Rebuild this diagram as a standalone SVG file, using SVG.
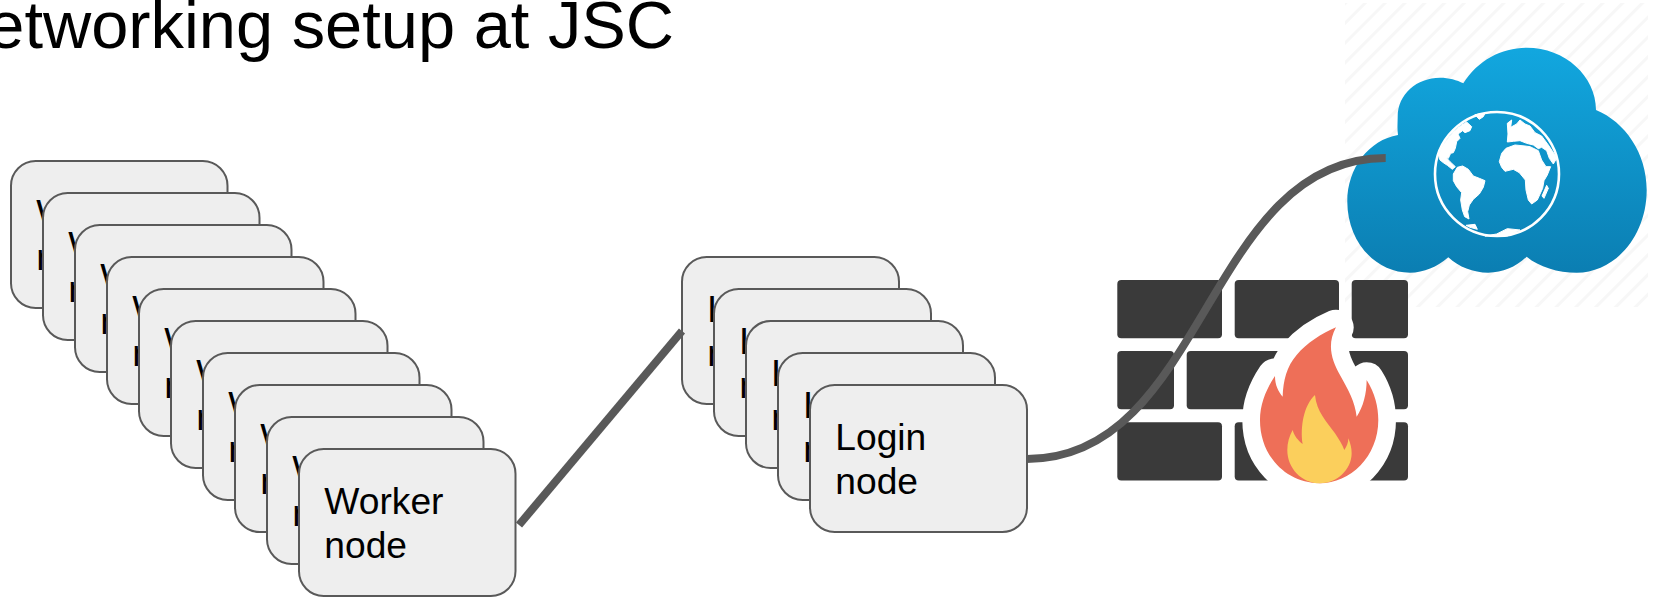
<svg xmlns="http://www.w3.org/2000/svg" width="1656" height="600" viewBox="0 0 1656 600">
<style>
.n rect{fill:#eeeeee;stroke:#595959;stroke-width:2}
text{font-family:"Liberation Sans",Arial,sans-serif;fill:#000}
.n text{font-size:37.2px}
.c{fill:none;stroke:#595959;stroke-width:8}
.b{fill:#3a3a3a}
</style>
<defs>
<linearGradient id="sky" x1="0" y1="0" x2="0" y2="1"><stop offset="0" stop-color="#12a7df"/><stop offset="1" stop-color="#0b7eb2"/></linearGradient>
<pattern id="hatch" width="14" height="14" patternUnits="userSpaceOnUse" patternTransform="rotate(45)"><rect width="14" height="14" fill="#fff"/><rect width="3" height="14" fill="#f7f7f7"/></pattern>
<pattern id="sheen" width="14" height="14" patternUnits="userSpaceOnUse" patternTransform="rotate(45)"><rect width="3" height="14" fill="#fff" fill-opacity=".03"/></pattern>
</defs>
<text id="title" x="-61" y="48" font-size="66.8">Networking setup at JSC</text>
<g id="cloud">
<rect x="1345" y="3" width="303" height="304" fill="url(#hatch)"/>
<path id="cloud-body" fill="url(#sky)" d="M1463.3 83.3C1478 60 1502 47.7 1526.7 47.7C1565 47.7 1596 76 1596 110C1625 122 1646.7 153 1646.7 190C1646.7 236 1615 272.7 1576.7 272.7C1558 272.7 1539 267 1526.7 256.7C1516 267 1503 272.7 1488.3 272.7C1473 272.7 1459 267 1448.3 257.3C1437 267 1424 272.7 1410 272.7C1375 272.7 1347.3 241 1347.3 201.7C1347.3 168 1369 140 1398 135C1397 128 1397.7 122 1397.7 116.7C1397.7 94 1417 77.7 1440 77.7C1449 77.7 1457 80 1463.3 83.3Z"/>
<circle cx="1497" cy="174" r="62" fill="none" stroke="#fff" stroke-width="2.6"/>
<g fill="#fff" stroke="#fff" stroke-width="3" stroke-linejoin="round" transform="translate(1420 110) scale(.3333)">
<path d="M100 192L112 172L128 168L145 178L160 198L178 205L195 212L190 232L178 252L160 268L148 285L143 305L147 327L134 320L127 300L122 270L125 248L110 230L100 212Z"/>
<path d="M56 135L65 112L80 90L100 65L125 45L140 36L155 50L150 62L135 68L128 62L114 72L120 85L110 95L106 115L100 128L92 130L85 145L78 142L90 155L106 170L97 178L82 166L70 158L60 150Z"/>
<path d="M165 14L195 10L190 20L178 28Z"/>
<path d="M238 155L245 130L258 115L285 105L315 108L330 110L355 122L365 150L378 170L392 170L382 195L372 212L368 235L352 270L335 282L325 270L318 240L316 210L298 188L280 178L255 184L245 172Z"/>
<path d="M262 40L275 30L272 52L290 42L300 30L315 42L330 48L345 68L365 78L385 105L405 135L410 145L400 162L388 145L380 122L365 112L355 116L340 105L320 100L300 92L280 94L262 96L264 72Z"/>
<path d="M380 226L385 235L372 265L366 258Z"/>
<path d="M195 378L230 372L262 356L300 360L262 378Z"/>
<path d="M138 346L165 343L172 358L150 352Z"/>
</g>
</g>
<g id="firewall">
<rect class="b" x="1117.3" y="280" width="104.7" height="58.3" rx="4"/>
<rect class="b" x="1234.7" y="280" width="104.3" height="58.3" rx="4"/>
<rect class="b" x="1351.7" y="280" width="56.3" height="58.3" rx="4"/>
<rect class="b" x="1117.3" y="351" width="56.7" height="58.3" rx="4"/>
<rect class="b" x="1186.7" y="351" width="221.3" height="58.3" rx="4"/>
<rect class="b" x="1117.3" y="422.3" width="104.7" height="58.3" rx="4"/>
<rect class="b" x="1234.7" y="422.3" width="173.3" height="58.3" rx="4"/>
<g transform="translate(1100 270) scale(.3333)">
<path id="flame" fill="#ee6f58" stroke="#fff" stroke-width="106" stroke-linejoin="round" paint-order="stroke" d="M708 172C680 225 695 270 720 315C745 360 765 395 770 440C790 410 800 370 800 330C825 370 835 410 835 450C835 560 750 640 660 640C560 640 480 560 480 450C480 400 500 355 525 318C525 345 535 365 548 380C550 330 560 290 590 255C620 220 665 190 708 172Z"/>
<path fill="#fbcf5c" d="M645 375C650 425 680 455 705 490C718 510 728 525 733 540C740 530 745 518 745 505C752 522 755 535 755 550C755 600 710 640 660 640C605 640 562 595 562 540C562 518 568 498 578 480C582 497 595 512 608 522C600 470 612 405 645 375Z"/>
</g>
</g>
<g id="worker-1" class="n" transform="translate(11 161)"><rect width="216.5" height="147" rx="24.67"/><text x="25.3" y="65">Worker</text><text x="25.3" y="109">node</text></g>
<g id="worker-2" class="n" transform="translate(43 193)"><rect width="216.5" height="147" rx="24.67"/><text x="25.3" y="65">Worker</text><text x="25.3" y="109">node</text></g>
<g id="worker-3" class="n" transform="translate(75 225)"><rect width="216.5" height="147" rx="24.67"/><text x="25.3" y="65">Worker</text><text x="25.3" y="109">node</text></g>
<g id="worker-4" class="n" transform="translate(107 257)"><rect width="216.5" height="147" rx="24.67"/><text x="25.3" y="65">Worker</text><text x="25.3" y="109">node</text></g>
<g id="worker-5" class="n" transform="translate(139 289)"><rect width="216.5" height="147" rx="24.67"/><text x="25.3" y="65">Worker</text><text x="25.3" y="109">node</text></g>
<g id="worker-6" class="n" transform="translate(171 321)"><rect width="216.5" height="147" rx="24.67"/><text x="25.3" y="65">Worker</text><text x="25.3" y="109">node</text></g>
<g id="worker-7" class="n" transform="translate(203 353)"><rect width="216.5" height="147" rx="24.67"/><text x="25.3" y="65">Worker</text><text x="25.3" y="109">node</text></g>
<g id="worker-8" class="n" transform="translate(235 385)"><rect width="216.5" height="147" rx="24.67"/><text x="25.3" y="65">Worker</text><text x="25.3" y="109">node</text></g>
<g id="worker-9" class="n" transform="translate(267 417)"><rect width="216.5" height="147" rx="24.67"/><text x="25.3" y="65">Worker</text><text x="25.3" y="109">node</text></g>
<g id="worker-10" class="n" transform="translate(299 449)"><rect width="216.5" height="147" rx="24.67"/><text x="25.3" y="65">Worker</text><text x="25.3" y="109">node</text></g>
<g id="login-1" class="n" transform="translate(682 257)"><rect width="217" height="147" rx="24.67"/><text x="25.3" y="65">Login</text><text x="25.3" y="109">node</text></g>
<g id="login-2" class="n" transform="translate(714 289)"><rect width="217" height="147" rx="24.67"/><text x="25.3" y="65">Login</text><text x="25.3" y="109">node</text></g>
<g id="login-3" class="n" transform="translate(746 321)"><rect width="217" height="147" rx="24.67"/><text x="25.3" y="65">Login</text><text x="25.3" y="109">node</text></g>
<g id="login-4" class="n" transform="translate(778 353)"><rect width="217" height="147" rx="24.67"/><text x="25.3" y="65">Login</text><text x="25.3" y="109">node</text></g>
<g id="login-5" class="n" transform="translate(810 385)"><rect width="217" height="147" rx="24.67"/><text x="25.3" y="65">Login</text><text x="25.3" y="109">node</text></g>
<g id="connectors">
<path class="c" d="M519 525L682 331"/>
<path class="c" d="M1027 459C1206 459 1206 158 1385.7 158"/>
</g>
</svg>
